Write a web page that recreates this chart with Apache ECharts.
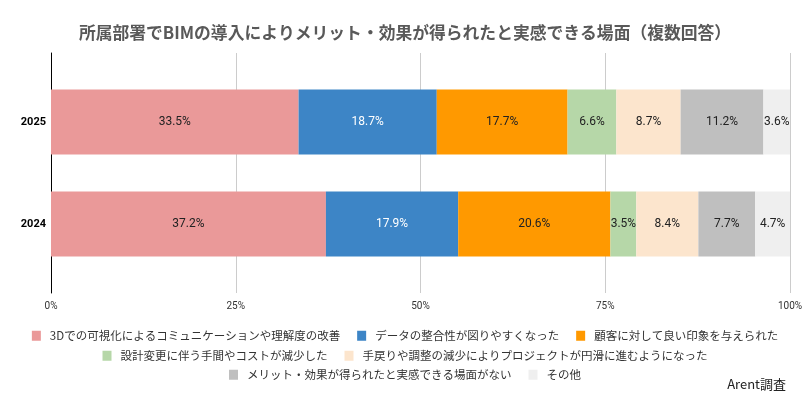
<!DOCTYPE html>
<html>
<head>
<meta charset="utf-8">
<script src="https://cdn.jsdelivr.net/npm/echarts@6/dist/echarts.min.js"></script>
<style>
html,body{margin:0;padding:0;background:#fff;}
#c{width:810px;height:395px;}
</style>
</head>
<body>
<div id="c"></div>
<script>
const categories = ['2025', '2024'];
const seriesNames = [
  '3Dでの可視化によるコミュニケーションや理解度の改善',
  'データの整合性が図りやすくなった',
  '顧客に対して良い印象を与えられた',
  '設計変更に伴う手間やコストが減少した',
  '手戻りや調整の減少によりプロジェクトが円滑に進むようになった',
  'メリット・効果が得られたと実感できる場面がない',
  'その他'
];
const visualization = [33.5, 37.2];
const consistency = [18.7, 17.9];
const impression = [17.7, 20.6];
const costReduction = [6.6, 3.5];
const smoothProject = [8.7, 8.4];
const noBenefit = [11.2, 7.7];
const other = [3.6, 4.7];
const xTicks = [0, 25, 50, 75, 100];

const values = [visualization, consistency, impression, costReduction, smoothProject, noBenefit, other];
const colors = ['#EA9999', '#3D85C6', '#FF9900', '#B6D7A8', '#FCE5CD', '#BFBFBF', '#EFEFEF'];
const labelColors = ['#222', '#fff', '#222', '#222', '#222', '#222', '#222'];
const jp = '"Noto Sans CJK JP", "Noto Sans", sans-serif';

const chart = echarts.init(document.getElementById('c'), null, {renderer: 'canvas'});

const series = values.map((v, i) => ({
  name: seriesNames[i],
  type: 'bar',
  stack: 'total',
  xAxisIndex: 1,
  yAxisIndex: 1,
  barWidth: 65,
  data: v,
  itemStyle: {color: colors[i]},
  label: {
    show: true,
    position: 'inside',
    formatter: p => p.value.toFixed(1) + '%',
    color: labelColors[i],
    fontSize: 12,
    fontFamily: 'Roboto, sans-serif'
  },
  emphasis: {disabled: true}
}));

const legendCommon = {
  itemWidth: 9,
  itemHeight: 10,
  itemGap: 17,
  icon: 'rect',
  left: 'center',
  textStyle: {fontSize: 11.5, color: '#333', fontFamily: jp, padding: [0, 0, 0, 4]}
};

chart.setOption({
  animation: false,
  backgroundColor: '#fff',
  title: [{
    text: '所属部署でBIMの導入によりメリット・効果が得られたと実感できる場面（複数回答）',
    left: 'center',
    top: 19,
    textStyle: {fontSize: 16.8, fontWeight: 'bold', color: '#595959', fontFamily: jp}
  }, {
    text: 'Arent調査',
    right: 19,
    top: 373,
    textStyle: {fontSize: 13, fontWeight: 'normal', color: '#222', fontFamily: jp}
  }],
  legend: [
    Object.assign({}, legendCommon, {top: 325, data: seriesNames.slice(0, 3)}),
    Object.assign({}, legendCommon, {top: 345, data: seriesNames.slice(3, 5)}),
    Object.assign({}, legendCommon, {top: 364, data: seriesNames.slice(5, 7)})
  ],
  grid: [
    {left: 51, right: 20, top: 53, bottom: 102},
    {left: 51, right: 20, top: 71, bottom: 120}
  ],
  xAxis: [{
    gridIndex: 0,
    type: 'value',
    min: xTicks[0],
    max: xTicks[xTicks.length - 1],
    interval: 25,
    axisLine: {show: false},
    axisTick: {show: false},
    splitLine: {show: true, lineStyle: {color: '#cccccc', width: 1}},
    axisLabel: {formatter: '{value}%', fontSize: 10, color: '#333', margin: 8, fontFamily: 'Roboto, sans-serif'}
  }, {
    gridIndex: 1,
    type: 'value',
    min: 0,
    max: 100,
    show: false
  }],
  yAxis: [{
    gridIndex: 0,
    type: 'value',
    min: 0,
    max: 1,
    axisLine: {show: true, lineStyle: {color: '#000', width: 1}},
    axisTick: {show: false},
    axisLabel: {show: false},
    splitLine: {show: false}
  }, {
    gridIndex: 1,
    type: 'category',
    inverse: true,
    data: categories,
    axisLine: {show: false},
    axisTick: {show: false},
    axisLabel: {fontSize: 11, fontWeight: 'bold', color: '#000', margin: 5, fontFamily: 'Roboto, sans-serif'}
  }],
  series: series
});
</script>
</body>
</html>
